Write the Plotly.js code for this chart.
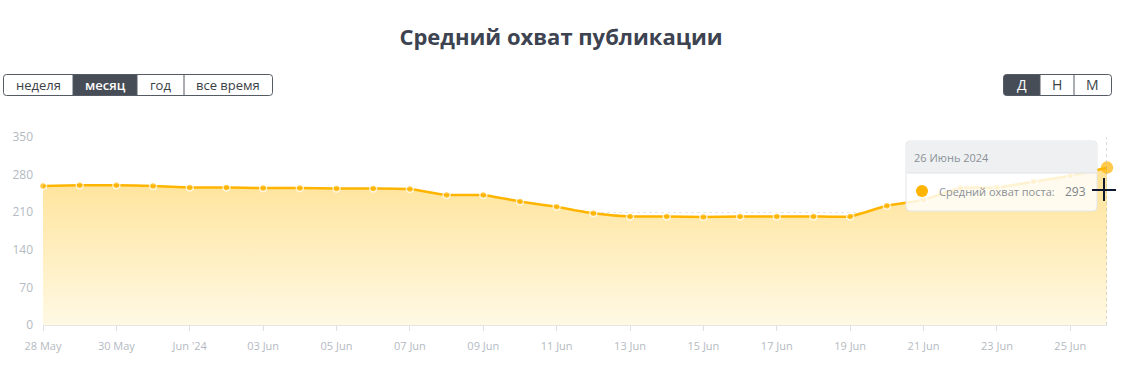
<!DOCTYPE html>
<html>
<head>
<meta charset="utf-8">
<script src="https://cdn.plot.ly/plotly-3.0.1.min.js"></script>
<style>html,body{margin:0;padding:0;background:#fff;}#chart{width:1122px;height:369px;}</style>
</head>
<body>
<div id="chart"></div>
<script>
// ---- data ----
const dates = ['2024-05-28','2024-05-29','2024-05-30','2024-05-31','2024-06-01','2024-06-02','2024-06-03','2024-06-04','2024-06-05','2024-06-06','2024-06-07','2024-06-08','2024-06-09','2024-06-10','2024-06-11','2024-06-12','2024-06-13','2024-06-14','2024-06-15','2024-06-16','2024-06-17','2024-06-18','2024-06-19','2024-06-20','2024-06-21','2024-06-22','2024-06-23','2024-06-24','2024-06-25','2024-06-26'];
const reach = [259,260,260,259,256,256,255,255,254,254,253,242,242,230,220,208,202,202,201,202,202,202,202,222,233,255,256,267,278,293];
const tickDates = ['2024-05-28','2024-05-30','2024-06-01','2024-06-03','2024-06-05','2024-06-07','2024-06-09','2024-06-11','2024-06-13','2024-06-15','2024-06-17','2024-06-19','2024-06-21','2024-06-23','2024-06-25'];
const tickLabels = ['28 May','30 May',"Jun '24",'03 Jun','05 Jun','07 Jun','09 Jun','11 Jun','13 Jun','15 Jun','17 Jun','19 Jun','21 Jun','23 Jun','25 Jun'];
const yTicks = [0,70,140,210,280,350];
const periodButtons = ['неделя','месяц','год','все время'];
const scaleButtons = ['Д','Н','М'];
const chartTitle = 'Средний охват публикации';
const seriesName = 'Средний охват поста:';
const tooltipDate = '26 Июнь 2024';

// ---- layout geometry helpers (pixel -> paper) ----
const W = 1122, H = 369, ML = 43, MR = 15, MT = 137, MB = 44;
const PW = W - ML - MR, PH = H - MT - MB;
const px = x => (x - ML) / PW;
const py = y => (H - MB - y) / PH;
const FONT = 'Open Sans, sans-serif';
const lineColor = '#FFB500';

function rrect(x0, y0, x1, y1, r) {
  const P = (x, y) => px(x) + ',' + py(y);
  return 'M' + P(x0 + r, y0) + ' L' + P(x1 - r, y0) + ' Q' + P(x1, y0) + ' ' + P(x1, y0 + r) +
    ' L' + P(x1, y1 - r) + ' Q' + P(x1, y1) + ' ' + P(x1 - r, y1) +
    ' L' + P(x0 + r, y1) + ' Q' + P(x0, y1) + ' ' + P(x0, y1 - r) +
    ' L' + P(x0, y0 + r) + ' Q' + P(x0, y0) + ' ' + P(x0 + r, y0) + ' Z';
}
function lrect(x0, y0, x1, y1, r) {
  const P = (x, y) => px(x) + ',' + py(y);
  return 'M' + P(x0 + r, y0) + ' L' + P(x1, y0) + ' L' + P(x1, y1) + ' L' + P(x0 + r, y1) +
    ' Q' + P(x0, y1) + ' ' + P(x0, y1 - r) + ' L' + P(x0, y0 + r) + ' Q' + P(x0, y0) + ' ' + P(x0 + r, y0) + ' Z';
}

const shapes = [];
const annotations = [];
const ref = {xref: 'paper', yref: 'paper'};

// period buttons
const pEdges = [3.5, 73, 137, 184, 272.5];
const activeP = 1;
shapes.push(Object.assign({type: 'rect', x0: px(pEdges[activeP]), x1: px(pEdges[activeP + 1]), y0: py(74.5), y1: py(95.5), fillcolor: '#474d57', line: {width: 0}, layer: 'above'}, ref));
shapes.push(Object.assign({type: 'path', path: rrect(pEdges[0], 74.5, pEdges[4], 95.5, 3), line: {color: '#555b65', width: 1}, layer: 'above'}, ref));
for (let i = 1; i < pEdges.length - 1; i++) {
  shapes.push(Object.assign({type: 'line', x0: px(pEdges[i]), x1: px(pEdges[i]), y0: py(74.5), y1: py(95.5), line: {color: '#555b65', width: 1}, layer: 'above'}, ref));
}
periodButtons.forEach((t, i) => {
  annotations.push(Object.assign({text: t, x: px((pEdges[i] + pEdges[i + 1]) / 2), y: py(85), showarrow: false, xanchor: 'center', yanchor: 'middle',
    font: {family: FONT, size: 13, color: i === activeP ? '#ffffff' : '#3a3f48', weight: i === activeP ? 600 : 400}}, ref));
});

// scale buttons
const sEdges = [1003.5, 1040, 1074, 1111.5];
shapes.push(Object.assign({type: 'path', path: lrect(sEdges[0], 74.5, sEdges[1], 95.5, 3), fillcolor: '#474d57', line: {width: 0}, layer: 'above'}, ref));
shapes.push(Object.assign({type: 'path', path: rrect(sEdges[0], 74.5, sEdges[3], 95.5, 3), line: {color: '#555b65', width: 1}, layer: 'above'}, ref));
for (let i = 1; i < sEdges.length - 1; i++) {
  shapes.push(Object.assign({type: 'line', x0: px(sEdges[i]), x1: px(sEdges[i]), y0: py(74.5), y1: py(95.5), line: {color: '#555b65', width: 1}, layer: 'above'}, ref));
}
scaleButtons.forEach((t, i) => {
  annotations.push(Object.assign({text: t, x: px((sEdges[i] + sEdges[i + 1]) / 2), y: py(85), showarrow: false, xanchor: 'center', yanchor: 'middle',
    font: {family: FONT, size: 14, color: i === 0 ? '#ffffff' : '#3a3f48'}}, ref));
});

// hover spike line on last point
const lastDate = dates[dates.length - 1];
shapes.push({type: 'line', xref: 'x', yref: 'paper', x0: lastDate, x1: lastDate, y0: 0, y1: 1, line: {color: '#b5b5b5', width: 1, dash: 'dot'}, layer: 'above'});

// tooltip
shapes.push(Object.assign({type: 'path', path: rrect(906, 141, 1097, 211, 4), fillcolor: 'rgba(255,255,255,0.82)', line: {color: '#e3e5e8', width: 1}, layer: 'above'}, ref));
shapes.push(Object.assign({type: 'path', path: rrect(906.5, 141.5, 1096.5, 173, 4), fillcolor: '#eef0f2', line: {width: 0}, layer: 'above'}, ref));
shapes.push(Object.assign({type: 'rect', x0: px(906.5), x1: px(1096.5), y0: py(166), y1: py(173), fillcolor: '#eef0f2', line: {width: 0}, layer: 'above'}, ref));
shapes.push(Object.assign({type: 'line', x0: px(906.5), x1: px(1096.5), y0: py(173), y1: py(173), line: {color: '#e1e3e6', width: 1}, layer: 'above'}, ref));
shapes.push(Object.assign({type: 'circle', x0: px(916), x1: px(928), y0: py(185), y1: py(197), fillcolor: lineColor, line: {width: 0}, layer: 'above'}, ref));
annotations.push(Object.assign({text: tooltipDate, x: px(912), y: py(157.5), showarrow: false, xanchor: 'left', yanchor: 'middle', font: {family: FONT, size: 11, color: '#8b9098'}}, ref));
annotations.push(Object.assign({text: seriesName, x: px(937), y: py(191.5), showarrow: false, xanchor: 'left', yanchor: 'middle', font: {family: FONT, size: 11, color: '#8b9098'}}, ref));
annotations.push(Object.assign({text: String(reach[reach.length - 1]), x: px(1088), y: py(191.5), showarrow: false, xanchor: 'right', yanchor: 'middle', font: {family: FONT, size: 12, color: '#7d828a'}}, ref));

// crosshair cursor
shapes.push(Object.assign({type: 'line', x0: px(1092), x1: px(1116), y0: py(190), y1: py(190), line: {color: '#101830', width: 2}, layer: 'above'}, ref));
shapes.push(Object.assign({type: 'line', x0: px(1104), x1: px(1104), y0: py(178), y1: py(201), line: {color: '#101830', width: 2}, layer: 'above'}, ref));

const n = reach.length;
const trace = {
  x: dates, y: reach, type: 'scatter', mode: 'lines+markers',
  line: {color: lineColor, width: 2.5, shape: 'spline', smoothing: 0.4},
  marker: {
    color: lineColor,
    size: reach.map((v, i) => i === n - 1 ? 11 : 7),
    line: {color: reach.map((v, i) => i === n - 1 ? lineColor : '#ffffff'), width: 1.5}
  },
  fill: 'tozeroy',
  fillgradient: {type: 'vertical', start: 0, stop: 290, colorscale: [[0, 'rgb(255,249,228)'], [1, 'rgb(255,226,150)']]},
  cliponaxis: false,
  hoverinfo: 'skip'
};
const gridTrace = {x: [dates[0]], y: [0], yaxis: 'y2', mode: 'none', type: 'scatter', hoverinfo: 'skip', showlegend: false};

const layout = {
  width: W, height: H,
  margin: {l: ML, r: MR, t: MT, b: MB, pad: 0},
  paper_bgcolor: '#ffffff', plot_bgcolor: 'rgba(0,0,0,0)',
  showlegend: false, hovermode: false,
  title: {text: chartTitle, x: 0.5, xanchor: 'center', y: 1 - 37 / H, yanchor: 'middle', font: {family: FONT, size: 22, color: '#3d4350', weight: 700}},
  font: {family: FONT},
  xaxis: {
    type: 'date', range: [dates[0], lastDate], tickvals: tickDates, ticktext: tickLabels,
    showgrid: false, zeroline: false, showline: true, linecolor: '#e6e6e6', linewidth: 1,
    ticks: 'outside', ticklen: 5, tickcolor: '#e0e0e0', tickwidth: 1,
    tickfont: {family: FONT, size: 11, color: '#b4bac2'}, ticklabelstandoff: 6
  },
  yaxis: {
    range: [0, 350], tickvals: yTicks, showgrid: false, zeroline: false, showline: false,
    ticks: '', tickfont: {family: FONT, size: 12, color: '#b4bac2'}, ticklabelstandoff: 9
  },
  yaxis2: {
    overlaying: 'y', range: [0, 350], tick0: 70, dtick: 140, showticklabels: false,
    showgrid: true, gridcolor: '#e6e6e6', griddash: 'dot', gridwidth: 1, zeroline: false, ticks: ''
  },
  shapes: shapes, annotations: annotations
};

Plotly.newPlot('chart', [gridTrace, trace], layout, {displayModeBar: false, staticPlot: true});
</script>
</body>
</html>
